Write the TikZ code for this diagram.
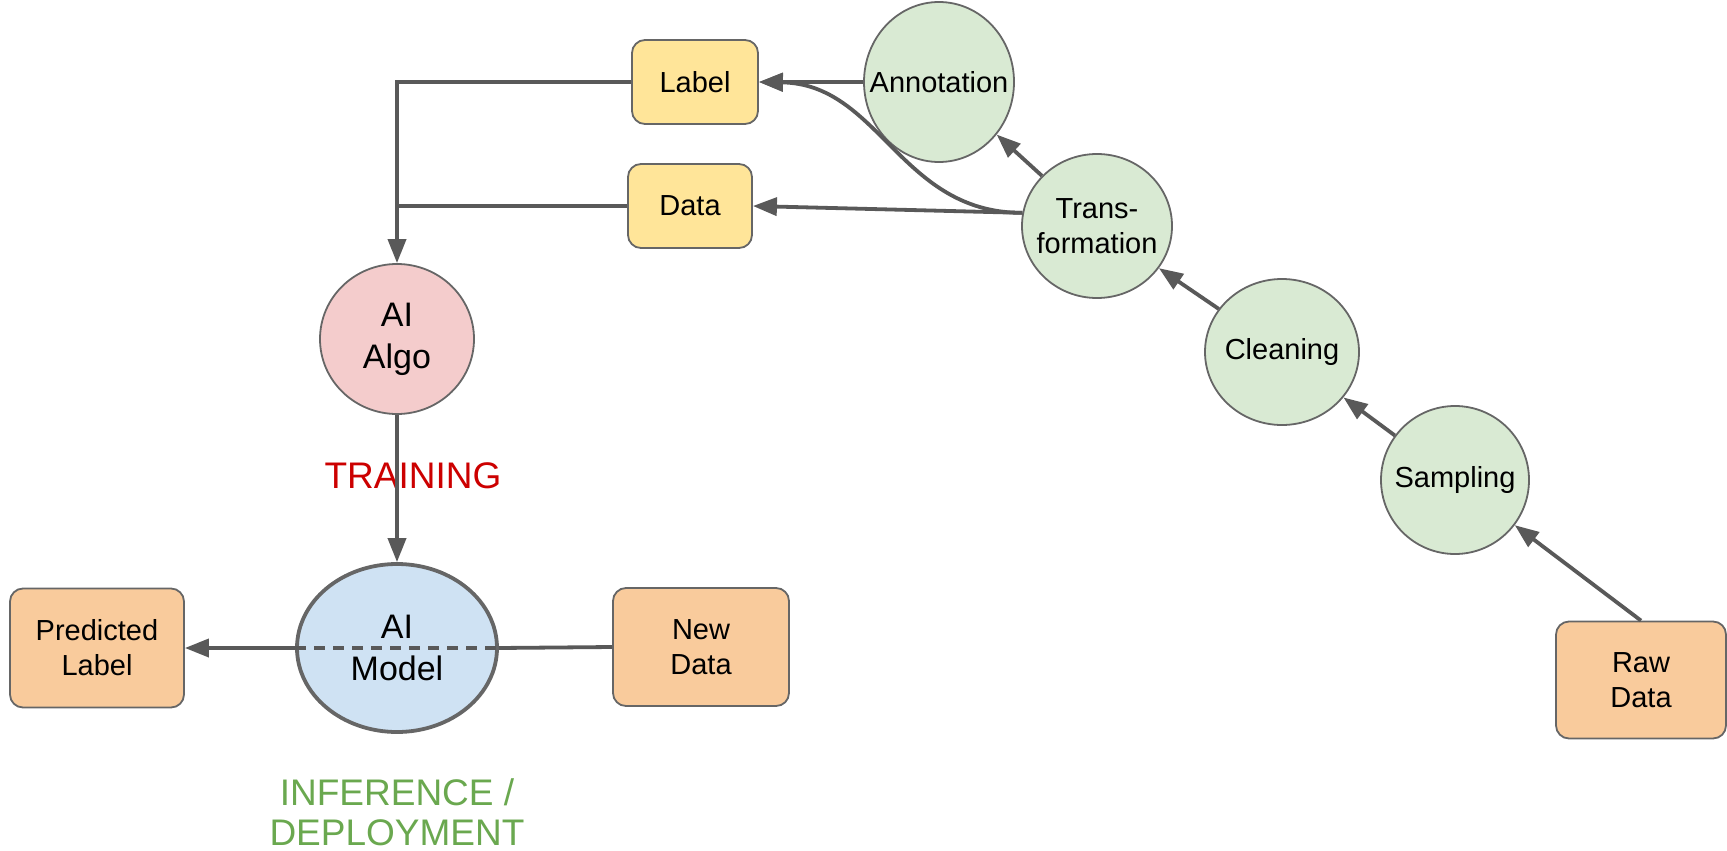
\documentclass[tikz,border=0pt]{standalone}
\usepackage{fontspec}
\setmainfont{Liberation Sans}
\usetikzlibrary{shapes.geometric,arrows.meta}

\definecolor{yellowfill}{HTML}{FFE599}
\definecolor{orangefill}{HTML}{F9CB9C}
\definecolor{greenfill}{HTML}{D9EAD3}
\definecolor{pinkfill}{HTML}{F4CCCC}
\definecolor{bluefill}{HTML}{CFE2F3}
\definecolor{edgegray}{HTML}{666666}
\definecolor{linkgray}{HTML}{595959}
\definecolor{trainred}{HTML}{CC0000}
\definecolor{infergreen}{HTML}{6AA84F}

\begin{document}
\begin{tikzpicture}[x=1pt,y=-1pt,
  box/.style={draw=edgegray, line width=1.8pt, rounded corners=13pt,
    align=center, inner sep=0pt, font=\fontsize{29pt}{35pt}\selectfont},
  oval/.style={ellipse, draw=edgegray, line width=1.8pt, inner sep=0pt},
  ovaltext/.style={align=center, inner sep=0pt, font=\fontsize{29pt}{35pt}\selectfont},
  bigtext/.style={ovaltext, font=\fontsize{34pt}{42pt}\selectfont},
  link/.style={draw=linkgray, line width=3.8pt},
  arr/.style={link, -{Triangle[length=24pt,width=18pt]}},
  phase/.style={align=center, font=\fontsize{37pt}{40pt}\selectfont}]

\useasboundingbox (0,0) rectangle (1727,851);

% data preparation chain
\node[box, fill=orangefill, minimum width=170pt, minimum height=117pt] (raw) at (1641,680) {Raw\\Data};
\node[oval, fill=greenfill, minimum width=148pt, minimum height=148pt] (samp) at (1455,480) {};
\node[ovaltext] (samp-t) at (samp) {Sampling};
\node[oval, fill=greenfill, minimum width=154pt, minimum height=146pt] (clean) at (1282,352) {};
\node[ovaltext] (clean-t) at (clean) {Cleaning};
\node[oval, fill=greenfill, minimum width=150pt, minimum height=144pt] (trans) at (1097,226) {};
\node[ovaltext] (trans-t) at (trans) {Trans-\\formation};
\node[oval, fill=greenfill, minimum width=150pt, minimum height=160pt] (annot) at (939,82) {};
\node[ovaltext] (annot-t) at (annot) {Annotation};

% training inputs
\node[box, fill=yellowfill, minimum width=126pt, minimum height=84pt] (lab) at (695,82) {Label};
\node[box, fill=yellowfill, minimum width=124pt, minimum height=84pt] (dat) at (690,206) {Data};

% training and inference
\node[oval, fill=pinkfill, minimum width=154pt, minimum height=150pt] (algo) at (397,339) {};
\node[bigtext] (algo-t) at (algo) {AI\\Algo};
\node[oval, fill=bluefill, line width=3.8pt, minimum width=200pt, minimum height=168pt] (model) at (397,648) {};
\node[box, fill=orangefill, minimum width=174pt, minimum height=119pt] (pred) at (97,648) {Predicted\\Label};
\node[box, fill=orangefill, minimum width=176pt, minimum height=118pt] (newd) at (701,647) {New\\Data};

\node[phase, text=trainred] (trainlbl) at (413,476) {TRAINING};
\node[phase, text=infergreen] (inferlbl) at (397,812) {INFERENCE /\\DEPLOYMENT};

% connectors of the preparation chain
\draw[arr] (raw.north) -- (samp);
\draw[arr] (samp) -- (clean);
\draw[arr] (clean) -- (trans);
\draw[arr] (trans) -- (annot);
\draw[arr] (annot.west) -- (lab.east);
\draw[arr] (trans.170) -- (dat.east);
\draw[arr] (trans.170) .. controls (900,213) and (880,84) .. (lab.east);

% inputs feeding the algorithm
\draw[arr] (lab.west) -| (algo.north);
\draw[link] (dat.west) -- (dat.west -| algo.north);

% training produces the model
\draw[arr] (algo.south) -- (model.north);

% inference path
\draw[link, dash pattern=on 11pt off 8pt] (model.west) -- (model.east);
\draw[link] (newd.west) -- (model.east);
\draw[arr] (model.west) -- (pred.east);
\node[bigtext] (model-t) at (model) {AI\\Model};

\end{tikzpicture}
\end{document}
